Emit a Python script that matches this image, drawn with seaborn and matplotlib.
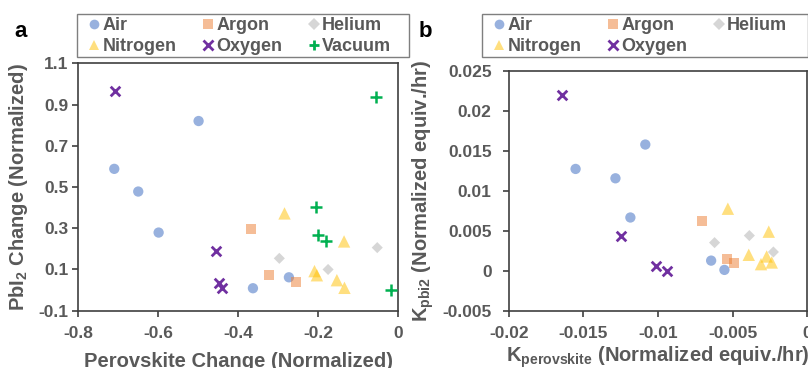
import numpy as np
import pandas as pd
import seaborn as sns
import matplotlib
matplotlib.use("Agg")
import matplotlib.pyplot as plt
from matplotlib.lines import Line2D
from matplotlib.patches import Rectangle

# panel a: perovskite change vs PbI2 change (normalized)
air_a_x = [-0.710, -0.650, -0.599, -0.499, -0.363, -0.273]
air_a_y = [0.588, 0.478, 0.279, 0.820, 0.009, 0.062]
argon_a_x = [-0.369, -0.323, -0.255]
argon_a_y = [0.297, 0.072, 0.041]
helium_a_x = [-0.297, -0.175, -0.052]
helium_a_y = [0.154, 0.100, 0.206]
nitrogen_a_x = [-0.284, -0.135, -0.209, -0.203, -0.153, -0.134]
nitrogen_a_y = [0.372, 0.236, 0.092, 0.072, 0.048, 0.011]
oxygen_a_x = [-0.708, -0.455, -0.447, -0.441]
oxygen_a_y = [0.966, 0.190, 0.036, 0.008]
vacuum_a_x = [-0.056, -0.204, -0.200, -0.180, -0.018]
vacuum_a_y = [0.938, 0.402, 0.268, 0.238, -0.001]

# panel b: rate constants
air_b_x = [-0.01552, -0.01285, -0.01085, -0.01185, -0.00644, -0.00555]
air_b_y = [0.01272, 0.01155, 0.01577, 0.00665, 0.00126, 0.0001]
argon_b_x = [-0.00704, -0.00541, -0.00488]
argon_b_y = [0.00623, 0.0015, 0.00092]
helium_b_x = [-0.00621, -0.00388, -0.00227]
helium_b_y = [0.00351, 0.00439, 0.00234]
nitrogen_b_x = [-0.00532, -0.00258, -0.00392, -0.00272, -0.00310, -0.00238]
nitrogen_b_y = [0.00775, 0.00488, 0.00199, 0.00178, 0.00082, 0.00103]
oxygen_b_x = [-0.01646, -0.01247, -0.01016, -0.00938]
oxygen_b_y = [0.0220, 0.00431, 0.00054, -0.00004]

gases = ["Air", "Argon", "Helium", "Nitrogen", "Oxygen", "Vacuum"]
colors = {"Air": "#4472C4", "Argon": "#ED7D31", "Helium": "#A5A5A5",
          "Nitrogen": "#FFC000", "Oxygen": "#7030A0", "Vacuum": "#00B050"}
alphas = {"Air": 0.55, "Argon": 0.5, "Helium": 0.45, "Nitrogen": 0.5,
          "Oxygen": 1.0, "Vacuum": 1.0}
markers = {"Air": "o", "Argon": "s", "Helium": "D", "Nitrogen": "^",
           "Oxygen": "x", "Vacuum": "+"}
sizes = {"Air": 55, "Argon": 52, "Helium": 32, "Nitrogen": 80,
         "Oxygen": 48, "Vacuum": 70}

sns.set_style("white")
TXT = "#595959"
plt.rcParams["font.family"] = ["Liberation Sans", "DejaVu Sans"]
plt.rcParams["font.weight"] = "bold"
plt.rcParams["mathtext.fontset"] = "custom"
plt.rcParams["mathtext.rm"] = "Liberation Sans:bold"
plt.rcParams["mathtext.it"] = "Liberation Sans:bold"
plt.rcParams["mathtext.bf"] = "Liberation Sans:bold"
plt.rcParams["mathtext.default"] = "rm"


def make_df(d):
    rows = []
    for g, (xs, ys) in d.items():
        for x, y in zip(xs, ys):
            rows.append((g, x, y))
    return pd.DataFrame(rows, columns=["gas", "x", "y"])


df_a = make_df({"Air": (air_a_x, air_a_y), "Argon": (argon_a_x, argon_a_y),
                "Helium": (helium_a_x, helium_a_y),
                "Nitrogen": (nitrogen_a_x, nitrogen_a_y),
                "Oxygen": (oxygen_a_x, oxygen_a_y),
                "Vacuum": (vacuum_a_x, vacuum_a_y)})
df_b = make_df({"Air": (air_b_x, air_b_y), "Argon": (argon_b_x, argon_b_y),
                "Helium": (helium_b_x, helium_b_y),
                "Nitrogen": (nitrogen_b_x, nitrogen_b_y),
                "Oxygen": (oxygen_b_x, oxygen_b_y)})

W, H = 808, 368
fig = plt.figure(figsize=(W / 100, H / 100), dpi=100)
ax_a = fig.add_axes([0.0969, 0.1557, 0.3957, 0.6723])
ax_b = fig.add_axes([0.6296, 0.1557, 0.3695, 0.6522])


def draw(ax, df, xpad, ypad):
    for g in gases:
        sub = df[df.gas == g]
        if sub.empty:
            continue
        lw = 2.0 if g == "Oxygen" else (1.8 if g == "Vacuum" else 0)
        sns.scatterplot(data=sub, x="x", y="y", ax=ax, color=colors[g],
                        marker=markers[g], s=sizes[g], alpha=alphas[g],
                        linewidth=lw, edgecolor=None if lw else "none",
                        legend=False, zorder=3)
    for s in ax.spines.values():
        s.set_color("#404040")
        s.set_linewidth(1.2)
    ax.tick_params(axis="both", direction="out", length=4.3, width=1.2,
                   color="#404040", labelsize=12.5, labelcolor=TXT,
                   bottom=True, left=True)
    ax.tick_params(axis="x", pad=xpad)
    ax.tick_params(axis="y", pad=ypad)
    for lab in ax.get_xticklabels() + ax.get_yticklabels():
        lab.set_fontweight("bold")


def legend(items, left_px, frame_px):
    # matplotlib fills legend columns first; reorder so rows read left to right
    order = [items[r * 3 + c] for c in range(3) for r in range(2)
             if r * 3 + c < len(items)]
    handles = []
    for g in order:
        ms = 7 if g in ("Air", "Argon", "Nitrogen") else 6.5
        h = Line2D([], [], linestyle="none", marker=markers[g], markersize=ms,
                   color=colors[g], alpha=alphas[g],
                   markeredgewidth=2 if g in ("Oxygen", "Vacuum") else 0)
        handles.append(h)
    leg = fig.legend(handles, order, loc="upper left",
                     bbox_to_anchor=(left_px / W, 1 - 17.5 / H),
                     bbox_transform=fig.transFigure, ncol=3,
                     frameon=False, borderaxespad=0, borderpad=0,
                     handlelength=0.6, handletextpad=0.15,
                     labelspacing=0.2, columnspacing=1.45,
                     prop={"size": 13, "weight": "bold"})
    for t in leg.get_texts():
        t.set_color(TXT)
    x0, x1, y0, y1 = frame_px
    fig.patches.append(Rectangle((x0 / W, 1 - y1 / H), (x1 - x0) / W,
                                 (y1 - y0) / H, transform=fig.transFigure,
                                 fill=False, edgecolor="#7f7f7f",
                                 linewidth=1.0))


draw(ax_a, df_a, 7, 3)
ax_a.set_xlim(-0.8, 0)
ax_a.set_ylim(-0.1, 1.1)
ax_a.set_xticks([-0.8, -0.6, -0.4, -0.2, 0])
ax_a.set_xticklabels(["-0.8", "-0.6", "-0.4", "-0.2", "0"])
ax_a.set_yticks([-0.1, 0.1, 0.3, 0.5, 0.7, 0.9, 1.1])
ax_a.set_yticklabels(["-0.1", "0.1", "0.3", "0.5", "0.7", "0.9", "1.1"])
ax_a.set_xlabel("Perovskite Change (Normalized)", fontsize=14.5,
                fontweight="bold", color=TXT)
ax_a.set_ylabel("PbI$_2$ Change (Normalized)", fontsize=14.5,
                fontweight="bold", color=TXT)
ax_a.xaxis.set_label_coords(0.5, -0.165)
ax_a.yaxis.set_label_coords(-0.15, 0.5)

draw(ax_b, df_b, 7, 8)
ax_b.set_xlim(-0.02, 0)
ax_b.set_ylim(-0.005, 0.025)
ax_b.set_xticks([-0.02, -0.015, -0.01, -0.005, 0])
ax_b.set_xticklabels(["-0.02", "-0.015", "-0.01", "-0.005", "0"])
ax_b.set_yticks([-0.005, 0, 0.005, 0.01, 0.015, 0.02, 0.025])
ax_b.set_yticklabels(["-0.005", "0", "0.005", "0.01", "0.015", "0.02", "0.025"])
ax_b.set_xlabel("K$_{perovskite}$ (Normalized equiv./hr)", fontsize=14.5,
                fontweight="bold", color=TXT)
ax_b.set_ylabel("K$_{pbi2}$ (Normalized equiv./hr)", fontsize=14.5,
                fontweight="bold", color=TXT)
ax_b.xaxis.set_label_coords(0.5, -0.14)
ax_b.yaxis.set_label_coords(-0.245, 0.5)

legend(gases, 89, (77, 409, 14, 57))
legend(gases[:5], 494, (482, 807.5, 14, 57))

fig.text(0.025, 0.915, "a", fontsize=16, fontweight="bold", color="black",
         ha="center", va="center")
fig.text(0.527, 0.915, "b", fontsize=16, fontweight="bold", color="black",
         ha="center", va="center")

fig.savefig("out.png", dpi=100)
